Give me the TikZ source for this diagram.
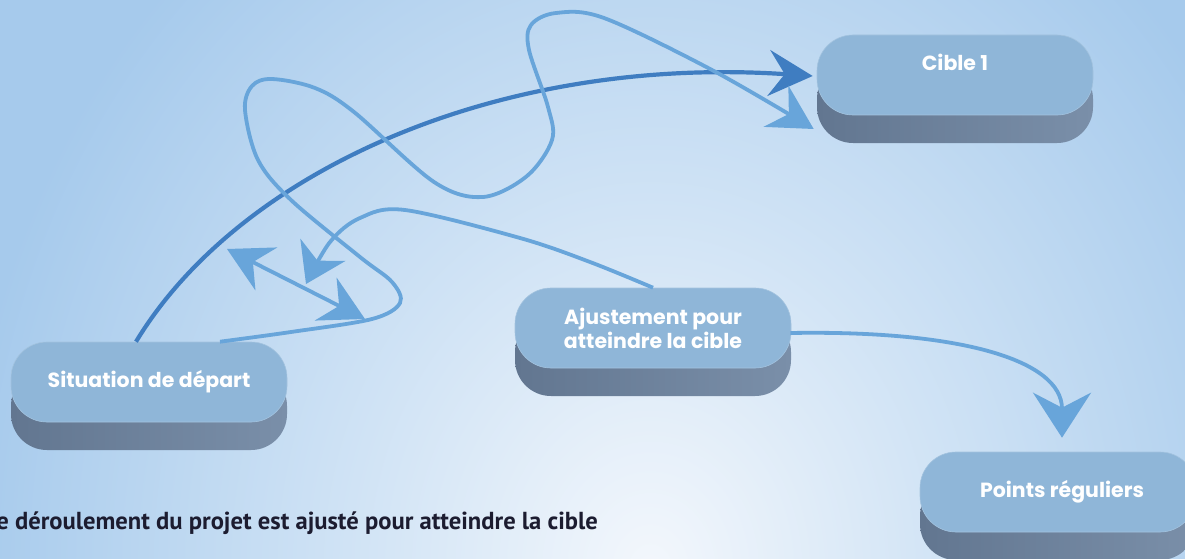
\documentclass[tikz,border=0pt]{standalone}
\usepackage{fontspec}
\setmainfont{Fira Sans}
\newfontfamily\nodefont{Poppins}
\newfontfamily\capfont{PT Sans}
\usetikzlibrary{arrows.meta,shadows,calc}

\definecolor{bgout}{HTML}{A6CAEC}
\definecolor{bgmid}{HTML}{D0E3F5}
\definecolor{bgin}{HTML}{F3F7FC}
\definecolor{face}{HTML}{8FB6D8}
\definecolor{faceedge}{HTML}{A3C3DF}
\definecolor{sideL}{HTML}{627690}
\definecolor{sideR}{HTML}{7A8FA9}
\definecolor{darkline}{HTML}{3F7DC1}
\definecolor{lightline}{HTML}{68A5DA}
\definecolor{captext}{HTML}{1C1C30}

\pgfdeclareradialshading{bgshade}{\pgfpoint{0bp}{0bp}}{color(0bp)=(bgin); color(11bp)=(bgmid); color(25bp)=(bgout); color(50bp)=(bgout)}

\tikzset{
  puck/.style={rectangle, rounded corners=36pt, minimum width=276pt, minimum height=80pt,
    fill=face, draw=faceedge, line width=0.6pt, text=white,
    font=\nodefont\bfseries\fontsize{20.5}{24}\selectfont, align=center,
    general shadow={shadow yshift=-28pt, left color=sideL, right color=sideR, draw=none}},
  darkarrow/.style={draw=darkline, line width=4.2pt, -{Stealth[length=44pt,width=46pt,inset=16pt]}},
  lightarrow/.style={draw=lightline, line width=3.8pt, -{Stealth[length=44pt,width=48pt,inset=15pt]}},
  bothlight/.style={draw=lightline, line width=3.8pt, {Stealth[length=44pt,width=48pt,inset=15pt]}-{Stealth[length=44pt,width=48pt,inset=15pt]}},
  caption/.style={text=captext, font=\capfont\bfseries\fontsize{24.6}{28}\selectfont, inner sep=0pt}
}

\begin{document}
\begin{tikzpicture}[x=1pt,y=-1pt]
\useasboundingbox (0,0) rectangle (1185,559);
\begin{scope}
\clip (0,0) rectangle (1185,559);
\fill[bgout] (0,0) rectangle (1185,559);
\shade[shading=bgshade] (650,570) ellipse [x radius=690pt, y radius=820pt];

\node[puck] (sit) at (149,382) {Situation de départ};
\node[puck, text depth=26pt] (cible) at (955,75) {Cible 1};
\node[puck] (ajust) at (653,328) {Ajustement pour\\atteindre la cible};
\node[puck] (pts) at (1058,492) {\hspace*{8pt}Points réguliers};

\coordinate (ajtip) at (306,284);
\coordinate (dl) at (227,249);
\coordinate (dr) at (365,319);

% dark main arrow
\draw[darkarrow] ($(sit.north)+(-13,0)$) .. controls (240,170) and (500,55) .. ($(cible.west)+(-4,1)$);

% loopy path
\draw[lightarrow] plot[smooth, tension=0.55] coordinates {
  ($(sit.north)+(71,0)$) (291,332) (372,319) (400,303) (392,282) (360,257)
  (291,200) (258,160) (245,110) (252,86) (272,79) (315,88) (354,112)
  (434,182) (483,197) (527,176) (552,140) (548,107) (529,50) (531,25)
  (556,13) (604,18) (712,70) ($(cible.west)+(-3,54)$)};

% adjustment back arrow
\draw[lightarrow, -{Stealth[length=38pt,width=50pt,inset=12pt]}] plot[smooth, tension=0.55] coordinates {
  (ajust.north) (590,262) (520,238) (405,210) (360,218) (330,242) (ajtip)};

% double arrow
\draw[bothlight] (dl) -- (dr);

% to regular points
\draw[lightarrow, -{Stealth[length=45pt,width=58pt,inset=15pt]}] ($(ajust.east)+(-1,5)$) .. controls (960,330) and (1062,360) .. ($(pts.north)+(4,-14)$);

\node[caption, anchor=base east] (cap) at (598,529) {Le déroulement du projet est ajusté pour atteindre la cible};
\end{scope}
\end{tikzpicture}
\end{document}
